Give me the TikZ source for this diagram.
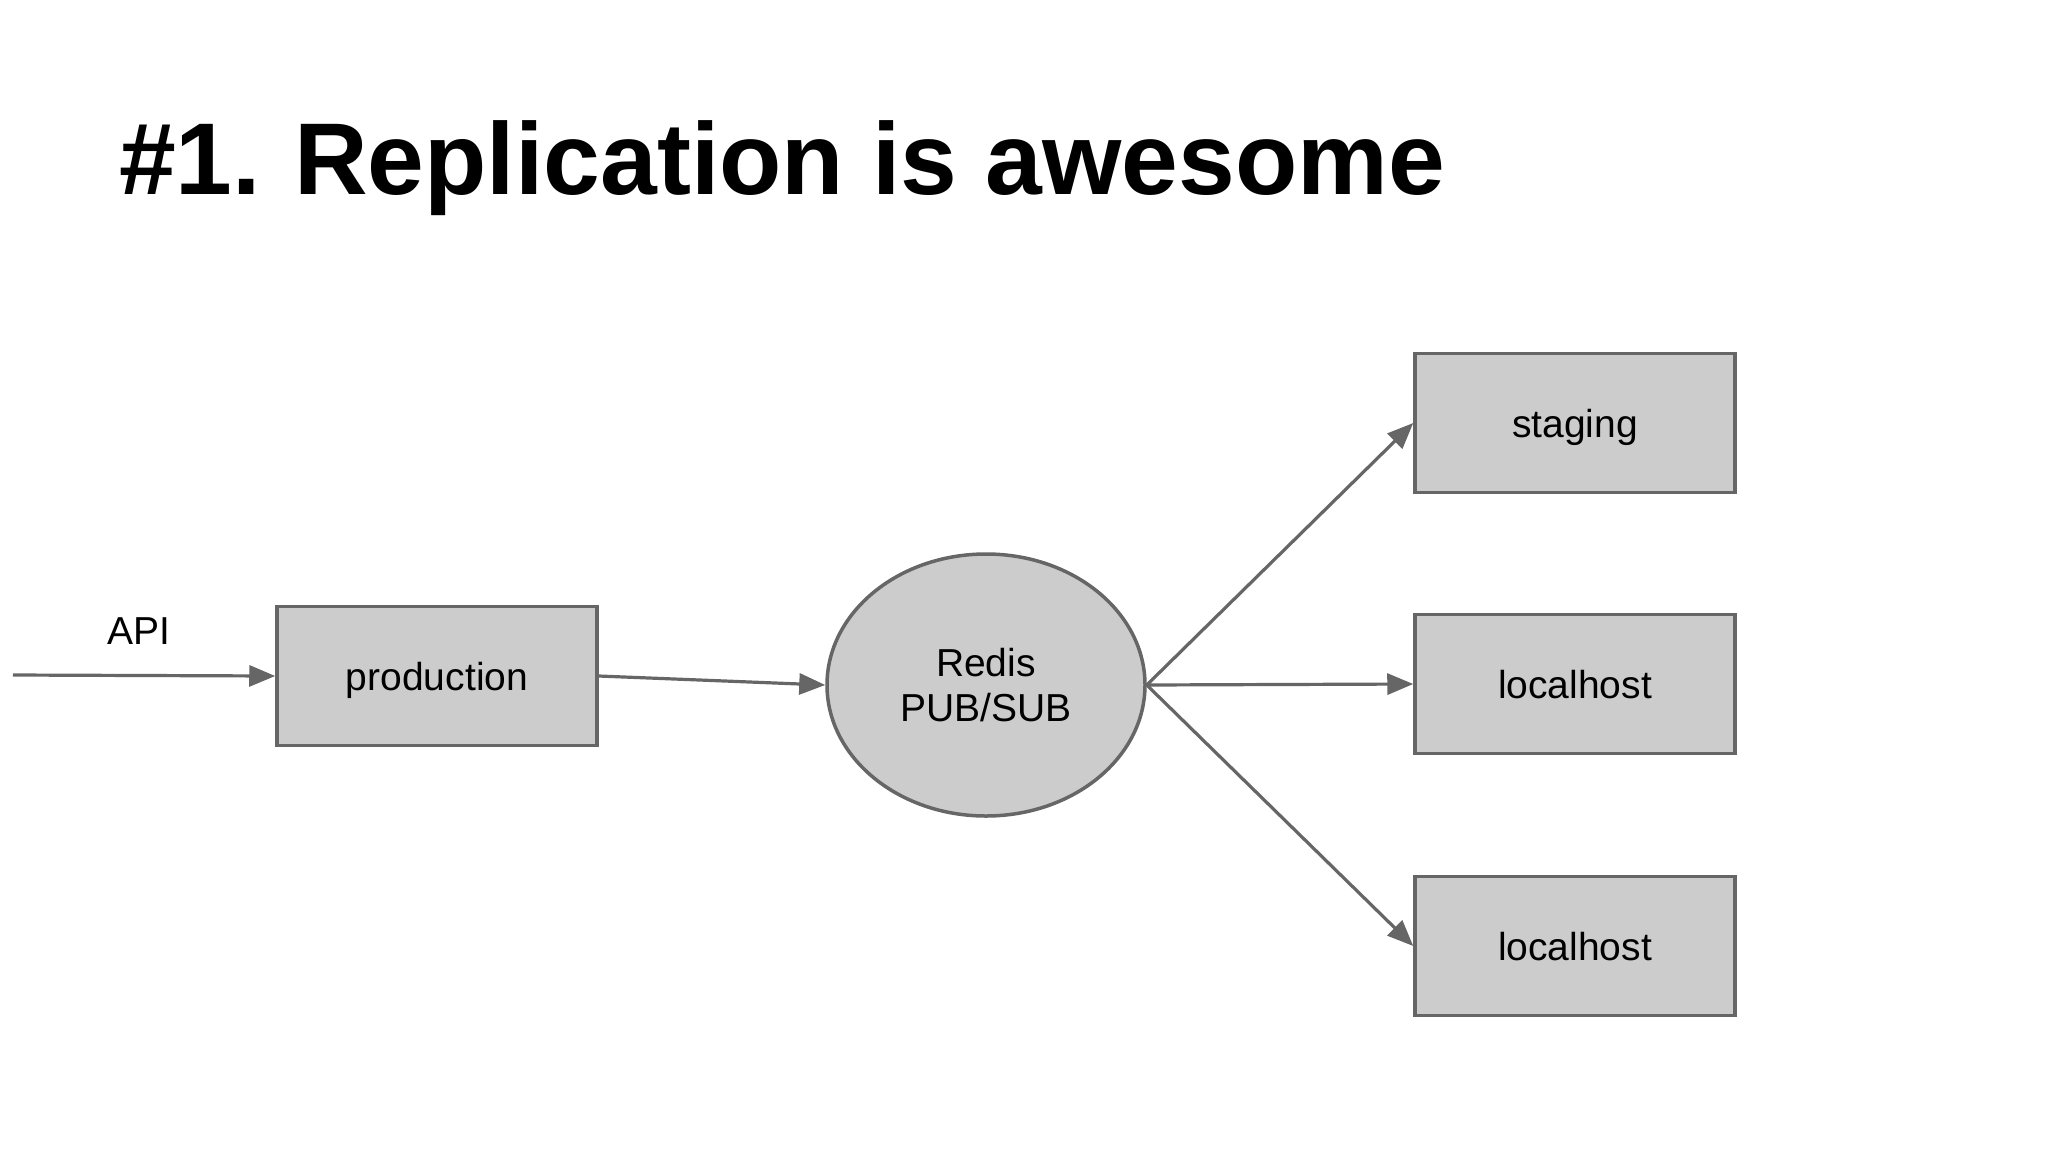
\documentclass[tikz,border=0pt]{standalone}
\usepackage{fontspec}
\setmainfont{Liberation Sans}
\usetikzlibrary{shapes.geometric,arrows.meta}
\definecolor{edgegray}{HTML}{666666}
\definecolor{fillgray}{HTML}{CCCCCC}
\frenchspacing
\begin{document}
\begin{tikzpicture}[x=1pt,y=-1pt,
  lbl/.style={font=\fontsize{39}{47}\selectfont, text=black},
  box/.style={draw=edgegray, fill=fillgray, line width=3.5pt, minimum width=320pt, minimum height=139pt, inner sep=0pt, text height=28pt, text depth=0pt, lbl},
  oval/.style={ellipse, draw=edgegray, fill=fillgray, line width=3.5pt, minimum width=318pt, minimum height=262pt, inner sep=0pt, lbl, align=center},
  conn/.style={draw=edgegray, line width=3.2pt, -{Triangle[length=26pt,width=21pt]}}
]
\useasboundingbox (0,0) rectangle (2048,1152);
\fill[white] (0,0) rectangle (2048,1152);

\node[anchor=base west, inner sep=0pt, font=\fontsize{102}{120}\selectfont\bfseries] (title) at (119,194) {\#1.\hspace{5pt} Replication is awesome};

\node[box] (prod) at (437,676) {production};
\node[oval] (redis) at (986,685) {Redis\\[-2pt]PUB/SUB};
\node[box] (staging) at (1575,423) {staging};
\node[box] (local1) at (1575,684) {localhost};
\node[box] (local2) at (1575,946) {localhost};

\node[lbl, inner sep=0pt] (api) at (139,631) {API};
\coordinate (in) at (13,675);

\draw[conn] (in) -- (prod.west);
\draw[conn] (prod.east) -- (redis.west);
\draw[conn] (redis.east) -- (staging.west);
\draw[conn] (redis.east) -- (local1.west);
\draw[conn] (redis.east) -- (local2.west);
\end{tikzpicture}
\end{document}
